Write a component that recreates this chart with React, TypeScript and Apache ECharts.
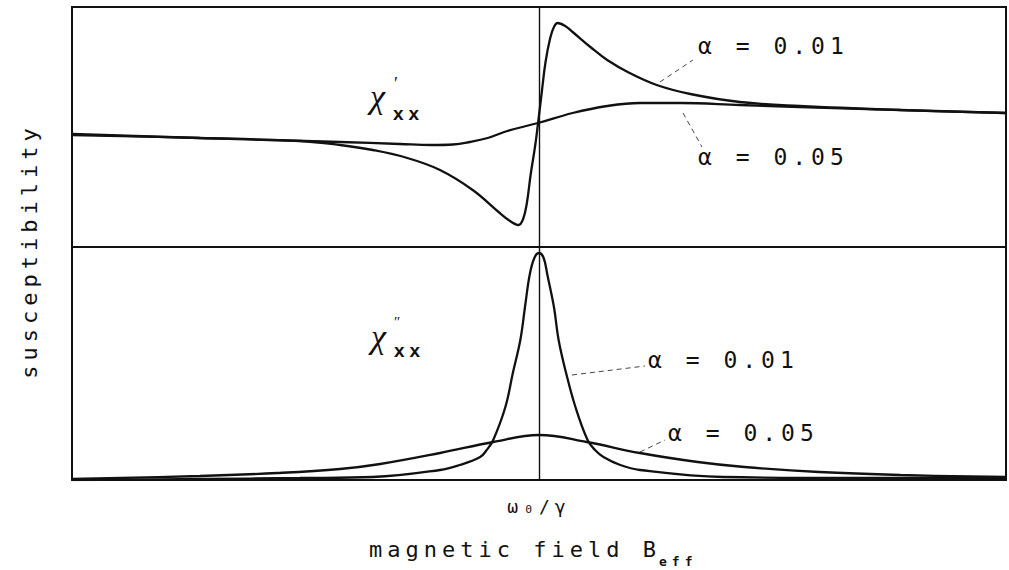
import React, { useEffect, useRef } from "react";
import * as echarts from "echarts";

// Field axis in arbitrary units: 0..100, resonance field ω0/γ at 50
const resonanceField = 50;

// Upper panel: χ'xx (dispersion), arbitrary units
const dispFieldA = [0, 13.7, 24.4, 28.7, 32.2, 35.9, 39.4, 42.9, 45.8, 46.9, 47.8, 48.3, 48.7, 49.1, 49.6, 49.9, 50.3, 50.7, 51.2, 51.6, 52.0, 52.8, 53.6, 55.5, 57.3, 59.7, 62.6, 66.2, 71.5, 77.9, 88.7, 100];
const dispValuesA = [112, 109, 106, 102, 97, 89, 77, 57, 34, 26, 22, 28, 44, 72, 102, 124, 155, 185, 209, 220, 224, 221, 215, 200, 187, 174, 162, 153, 145, 141, 137, 134];
const dispFieldB = [0, 13.7, 28.7, 35.1, 38.5, 40.8, 42.6, 44.5, 46.6, 49.9, 53.6, 57.3, 60.8, 65.1, 71.5, 77.9, 88.7, 100];
const dispValuesB = [113, 109, 105, 103, 102, 102.5, 105, 109, 116, 124, 134, 141, 144, 144, 142, 140, 137, 134];

// Lower panel: χ''xx (absorption), arbitrary units
const absFieldA = [0, 13.7, 24.4, 32.2, 39.4, 41.5, 43.7, 44.4, 45.1, 46.4, 47.2, 48.0, 48.5, 49.0, 49.5, 50.0, 50.5, 50.9, 51.6, 52.1, 52.9, 53.9, 55.2, 56.0, 56.9, 58.7, 60.8, 69.7, 83.3, 100];
const absValuesA = [0, 1, 2, 3, 10, 15, 23, 30, 40, 73, 107, 140, 173, 205, 222, 227, 222, 205, 173, 140, 107, 73, 40, 30, 23, 15, 10, 3, 2, 2];
const absFieldB = [0, 13.7, 22.0, 28.7, 33.0, 39.4, 45.1, 50.0, 55.1, 60.8, 67.0, 72.0, 80.0, 88.7, 100];
const absValuesB = [1, 4, 7, 11, 16, 27, 38, 45, 38, 27, 18, 13, 8, 5, 3];

const alphaLabels = ["α = 0.01", "α = 0.05"];
const yTitle = "susceptibility";
const xTitle = "magnetic field B";
const xTitleSub = "eff";
const resonanceLabel = "ω₀/γ";

const zip = (xs: number[], ys: number[]) => xs.map((x, i) => [x, ys[i]]);

const INK = "#111";
const MONO = "DejaVu Sans Mono";

function buildOption(): any {
  const lineSeries = (name: string, xi: number, data: number[][], mark: boolean) => ({
    name,
    type: "line",
    xAxisIndex: xi,
    yAxisIndex: xi,
    data,
    showSymbol: false,
    smooth: 0.4,
    lineStyle: { color: INK, width: 2.3 },
    silent: true,
    markLine: mark
      ? {
          silent: true,
          symbol: ["none", "none"],
          label: { show: false },
          lineStyle: { color: INK, width: 1.4, type: "solid" },
          data: [{ xAxis: resonanceField }],
        }
      : undefined,
  });

  const text = (x: number, y: number, t: string, size: number, extra: any = {}) => ({
    type: "text",
    x,
    y,
    silent: true,
    ...extra,
    style: {
      text: t,
      fontSize: size,
      fontFamily: MONO,
      fill: INK,
      textAlign: "left",
      textVerticalAlign: "middle",
      ...(extra.style || {}),
    },
  });

  const leader = (x1: number, y1: number, x2: number, y2: number) => ({
    type: "line",
    silent: true,
    shape: { x1, y1, x2, y2 },
    style: { stroke: "#444", lineWidth: 1, lineDash: [5, 4] },
  });

  const chiStyle = { fontFamily: "Liberation Serif", fontStyle: "italic" };
  const subStyle = { fontFamily: "Liberation Sans", fontWeight: "bold" };

  return {
    animation: false,
    backgroundColor: "#fff",
    grid: [
      { left: 72, top: 7, width: 934, height: 240, show: true, borderColor: INK, borderWidth: 2 },
      { left: 72, top: 247, width: 934, height: 233, show: true, borderColor: INK, borderWidth: 2 },
    ],
    xAxis: [
      { gridIndex: 0, type: "value", min: 0, max: 100, show: false },
      {
        gridIndex: 1,
        type: "value",
        min: 0,
        max: 100,
        interval: 50,
        axisLine: { show: false },
        axisTick: { show: false },
        splitLine: { show: false },
        axisLabel: {
          margin: 17,
          fontFamily: MONO,
          fontSize: 18,
          color: INK,
          formatter: (v: number) => (v === resonanceField ? resonanceLabel : ""),
        },
      },
    ],
    yAxis: [
      { gridIndex: 0, type: "value", min: 0, max: 240, show: false },
      { gridIndex: 1, type: "value", min: 0, max: 233, show: false },
    ],
    series: [
      lineSeries("χ' α=0.01", 0, zip(dispFieldA, dispValuesA), true),
      lineSeries("χ' α=0.05", 0, zip(dispFieldB, dispValuesB), false),
      lineSeries("χ'' α=0.01", 1, zip(absFieldA, absValuesA), true),
      lineSeries("χ'' α=0.05", 1, zip(absFieldB, absValuesB), false),
    ],
    graphic: [
      // axis titles
      text(29, 251, yTitle, 22, { rotation: Math.PI / 2, style: { textAlign: "center" } }),
      text(369, 549, xTitle, 22),
      text(659, 561, xTitleSub, 13, { style: { fontWeight: "bold" } }),
      // panel labels
      text(370, 96, "χ", 34, { style: chiStyle }),
      text(394, 84, "′", 18, { style: { fontFamily: "Liberation Serif" } }),
      text(393, 113, "xx", 19, { style: subStyle }),
      text(371, 336, "χ", 34, { style: chiStyle }),
      text(394, 322, "″", 15, { style: { fontFamily: "Liberation Serif" } }),
      text(394, 350, "xx", 19, { style: subStyle }),
      // alpha labels
      text(698, 46, alphaLabels[0], 23),
      text(698, 157, alphaLabels[1], 23),
      text(648, 360, alphaLabels[0], 23),
      text(668, 433, alphaLabels[1], 23),
      // leader lines
      leader(660, 82, 693, 60),
      leader(683, 113, 702, 147),
      leader(572, 375, 645, 366),
      leader(640, 452, 665, 440),
    ],
  };
}

export default function App() {
  const ref = useRef<HTMLDivElement>(null);
  useEffect(() => {
    if (!ref.current) return;
    const chart = echarts.init(ref.current, null, { renderer: "svg" });
    chart.setOption(buildOption());
    return () => chart.dispose();
  }, []);
  return (
    <div
      ref={ref}
      style={{
        position: "absolute",
        left: 0,
        top: 0,
        width: 1009,
        height: 570,
        background: "#fff",
        letterSpacing: "5px",
      }}
    />
  );
}
